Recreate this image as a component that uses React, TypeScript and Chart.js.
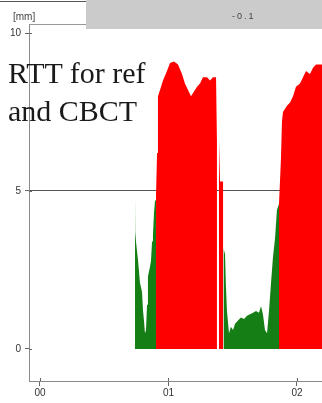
import React, { useEffect, useRef } from "react";
import { Chart, registerables } from "chart.js";

Chart.register(...registerables);

// positions along the time axis (axis units)
const xValues = [
  0.739, 0.741, 0.747, 0.763, 0.778, 0.794, 0.802, 0.809, 0.817, 0.825, 0.833, 0.84, 0.856, 0.864, 0.872, 0.879, 0.887, 0.895,
  0.903, 0.911, 0.918, 0.934, 0.957, 0.988, 1.012, 1.043, 1.074, 1.105, 1.128, 1.152, 1.175, 1.191, 1.222, 1.245,
  1.268, 1.3, 1.323, 1.346, 1.37, 1.377, 1.385, 1.393, 1.401, 1.426, 1.428,
  1.44, 1.447, 1.455, 1.471, 1.486, 1.502, 1.518, 1.541, 1.564, 1.588, 1.611, 1.634, 1.658, 1.681, 1.704, 1.72,
  1.735, 1.751, 1.767, 1.782, 1.798, 1.813, 1.829, 1.844, 1.86,
  1.875, 1.883, 1.891, 1.907, 1.922, 1.946, 1.969, 1.992, 2.023, 2.047, 2.07, 2.101, 2.125, 2.148, 2.171, 2.195,
];

// green series (ref)
const greenValues = [
  5.1, 3.7, 3.4, 2.8, 2.1, 1.8, 1.2, 0.9, 0.5, 0.6, 1.4, 2.3, 2.6, 2.8, 3.4, 3.6, 4.3, 4.7,
  4.7, null, null, null, null, null, null, null, null, null, null, null, null, null, null, null,
  null, null, null, null, null, null, null, null, null, null, 3.2,
  3.0, 2.0, 1.2, 0.5, 0.7, 0.6, 0.8, 0.9, 1.0, 0.95, 1.05, 1.1, 1.15, 1.2, 1.15, 1.35,
  1.1, 0.6, 0.5, 1.2, 2.1, 2.9, 3.5, 4.4, 4.6,
  null, null, null, null, null, null, null, null, null, null, null, null, null, null, null, null,
];

// red series (CBCT)
const redValues = [
  null, null, null, null, null, null, null, null, null, null, null, null, null, null, null, null, null, null,
  4.9, 6.2, 8.0, 8.2, 8.5, 8.8, 9.05, 9.1, 9.0, 8.7, 8.4, 8.2, 8.0, 8.1, 8.3, 8.4,
  8.6, 8.6, 8.5, 8.6, 8.6, 6.6, null, 6.6, 5.3, 5.3, null,
  null, null, null, null, null, null, null, null, null, null, null, null, null, null, null, null,
  null, null, null, null, null, null, null, null, 4.6,
  6.0, 7.2, 7.5, 7.6, 7.7, 7.8, 8.0, 8.3, 8.4, 8.6, 8.8, 8.7, 8.9, 9.0, 9.0, 9.0,
];

const xTickValues = [0, 1, 2];
const xTickLabels = ["00", "01", "02"];
const yTickValues = [0, 5, 10];
const yTickLabels = ["0", "5", "10"];

const tickCross = {
  id: "tickCross",
  afterDraw(chart: any) {
    const { ctx, chartArea, scales } = chart;
    ctx.save();
    ctx.strokeStyle = "#666";
    ctx.lineWidth = 1;
    ctx.beginPath();
    yTickValues.forEach((v) => {
      const y = Math.round(scales.y.getPixelForValue(v)) + 0.5;
      ctx.moveTo(chartArea.left, y);
      ctx.lineTo(chartArea.left + 3, y);
    });
    xTickValues.forEach((v) => {
      const x = Math.round(scales.x.getPixelForValue(v)) + 0.5;
      ctx.moveTo(x, chartArea.bottom);
      ctx.lineTo(x, chartArea.bottom - 3);
    });
    ctx.stroke();
    ctx.strokeStyle = "#999";
    ctx.beginPath();
    ctx.moveTo(chartArea.left, chartArea.top + 0.5);
    ctx.lineTo(chartArea.right, chartArea.top + 0.5);
    ctx.stroke();
    ctx.restore();
  },
};

export default function App() {
  const ref = useRef<HTMLCanvasElement | null>(null);

  useEffect(() => {
    document.body.style.margin = "0";
    const makeData = (vals: (number | null)[]) => xValues.map((x, i) => ({ x, y: vals[i] }));
    const chart = new Chart(ref.current as HTMLCanvasElement, {
      type: "line",
      data: {
        datasets: [
          {
            label: "ref",
            data: makeData(greenValues) as any,
            fill: "origin",
            tension: 0,
            backgroundColor: "#157f15",
            borderColor: "rgba(0,0,0,0)",
            borderWidth: 0,
            pointRadius: 0,
            spanGaps: false,
          },
          {
            label: "CBCT",
            data: makeData(redValues) as any,
            fill: "origin",
            tension: 0,
            backgroundColor: "#ff0000",
            borderColor: "rgba(0,0,0,0)",
            borderWidth: 0,
            pointRadius: 0,
            spanGaps: false,
          },
        ],
      },
      options: {
        animation: false,
        responsive: false,
        layout: { padding: { top: 24, left: 0, right: 0, bottom: 0 } },
        plugins: { legend: { display: false }, tooltip: { enabled: false }, title: { display: false } },
        scales: {
          x: {
            type: "linear",
            min: -0.0856,
            max: 2.1946,
            afterBuildTicks: (s: any) => {
              s.ticks = xTickValues.map((value) => ({ value }));
            },
            afterFit: (s: any) => {
              s.height = 22;
            },
            ticks: {
              callback: (v: any) => xTickLabels[xTickValues.indexOf(Number(v))] ?? "",
              font: { family: "Liberation Sans", size: 10 },
              color: "#333",
              padding: 1,
              maxRotation: 0,
            },
            grid: { drawOnChartArea: false, tickLength: 5, color: "#666" },
            border: { display: true, color: "#8a8a8a" },
          },
          y: {
            type: "linear",
            min: -1.013,
            max: 10.285,
            afterBuildTicks: (s: any) => {
              s.ticks = yTickValues.map((value) => ({ value }));
            },
            afterFit: (s: any) => {
              s.width = 29;
            },
            ticks: {
              callback: (v: any) => yTickLabels[yTickValues.indexOf(Number(v))] ?? "",
              font: { family: "Liberation Sans", size: 10 },
              color: "#333",
              padding: 4,
            },
            grid: {
              drawOnChartArea: true,
              tickLength: 4,
              color: (c: any) => (c.tick && c.tick.value === 5 ? "#555" : "rgba(0,0,0,0)"),
              tickColor: "#666",
            },
            border: { display: true, color: "#8a8a8a" },
          },
        },
      },
      plugins: [tickCross],
    });
    return () => chart.destroy();
  }, []);

  return (
    <div style={{ position: "absolute", left: 0, top: 0, width: 322, height: 403, background: "#fff", overflow: "hidden" }}>
      <canvas ref={ref} width={322} height={403} style={{ display: "block", position: "absolute", left: 0, top: 0 }} />
      <div style={{ position: "absolute", left: 0, top: 1, width: 86, height: 1, background: "#555" }} />
      <div
        style={{
          position: "absolute",
          left: 86,
          top: 0,
          width: 236,
          height: 29,
          background: "#cbcbcb",
        }}
      >
        <div
          style={{
            position: "absolute",
            left: 146,
            top: 11,
            font: "9px 'Liberation Sans'",
            color: "#444",
            letterSpacing: "2px",
            whiteSpace: "nowrap",
          }}
        >
          -0.1
        </div>
      </div>
      <div
        style={{
          position: "absolute",
          left: 13,
          top: 11,
          font: "10px 'Liberation Sans'",
          color: "#444",
          whiteSpace: "nowrap",
        }}
      >
        [mm]
      </div>
      <div
        style={{
          position: "absolute",
          left: 8,
          top: 54,
          font: "30px 'Liberation Serif'",
          lineHeight: "38px",
          color: "#1a1a1a",
          whiteSpace: "nowrap",
        }}
      >
        RTT for ref
        <br />
        and CBCT
      </div>
    </div>
  );
}
